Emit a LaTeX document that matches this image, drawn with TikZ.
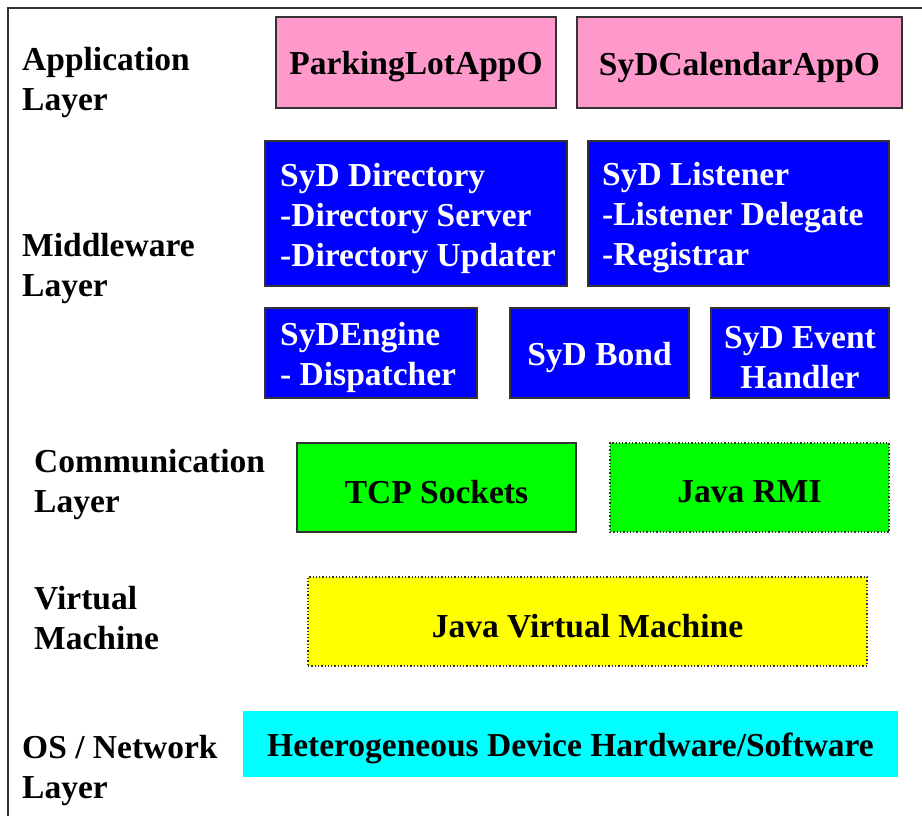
\documentclass[tikz,border=0pt]{standalone}
\usepackage{fontspec}
\setmainfont{Liberation Serif}
\definecolor{pinkbox}{HTML}{FF99CC}
\definecolor{bluebox}{HTML}{0000FF}
\definecolor{greenbox}{HTML}{00FF00}
\definecolor{yellowbox}{HTML}{FFFF00}
\definecolor{cyanbox}{HTML}{00FFFF}
\definecolor{edge}{HTML}{333333}
\begin{document}
\begin{tikzpicture}[x=1pt,y=-1pt,
  font=\fontsize{33.5}{40}\selectfont\bfseries,
  layerlabel/.style={anchor=west, align=left, inner sep=0pt},
  box/.style={draw=edge, line width=1.3pt, inner sep=0pt},
  dotbox/.style={draw=edge, line width=1.3pt, dotted, inner sep=0pt},
  txt/.style={inner sep=0pt, align=center, yshift=-4.5pt},
  wtxt/.style={txt, text=white},
  wltxt/.style={wtxt, align=left, anchor=west},
  appbox/.style={box, fill=pinkbox},
  midbox/.style={box, fill=bluebox},
  combox/.style={fill=greenbox},
]
\useasboundingbox (0,0) rectangle (922,816);
\draw[line width=1.5pt, edge] (8,816) -- (8,8) -- (922,8);

% layer labels
\node[layerlabel] (lapp) at (22,82) {Application\\Layer};
\node[layerlabel] (lmid) at (22,268) {Middleware\\Layer};
\node[layerlabel] (lcom) at (34,484) {Communication\\Layer};
\node[layerlabel] (lvm)  at (34,618) {Virtual\\Machine};
\node[layerlabel] (los)  at (22,770) {OS / Network\\Layer};

% application layer
\node[appbox, minimum width=280pt, minimum height=91pt] (park) at (416,62.5) {};
\node[txt] (parkt) at (park.center) {ParkingLotAppO};
\node[appbox, minimum width=325pt, minimum height=91pt] (cal) at (739.5,62.5) {};
\node[txt] (calt) at (cal.center) {SyDCalendarAppO};

% middleware layer
\node[midbox, minimum width=302pt, minimum height=145pt] (dir) at (416,213.5) {};
\node[wltxt] (dirt) at (280,213.5) {SyD Directory\\-Directory Server\\-Directory Updater};
\node[midbox, minimum width=301pt, minimum height=145pt] (lis) at (738.5,213.5) {};
\node[wltxt] (list) at (602,213.5) {SyD Listener\\-Listener Delegate\\-Registrar};
\node[midbox, minimum width=212pt, minimum height=90pt] (eng) at (371,353) {};
\node[wltxt] (engt) at (280,353) {SyDEngine\\- Dispatcher};
\node[midbox, minimum width=179pt, minimum height=90pt] (bond) at (599.5,353) {};
\node[wtxt] (bondt) at (bond.center) {SyD Bond};
\node[midbox, minimum width=178pt, minimum height=90pt] (evh) at (800,353) {};
\node[wtxt] (evht) at (evh.center) {SyD Event\\Handler};

% communication layer
\node[box, combox, minimum width=279pt, minimum height=89pt] (tcp) at (436.5,487.5) {};
\node[txt] (tcpt) at (tcp.center) {TCP Sockets};
\node[dotbox, combox, minimum width=279pt, minimum height=89pt] (rmi) at (749.5,487.5) {};
\node[txt] (rmit) at (rmi.center) {Java RMI};

% virtual machine
\node[dotbox, fill=yellowbox, minimum width=559pt, minimum height=89pt] (jvm) at (587.5,621.5) {};
\node[txt] (jvmt) at (jvm.center) {Java Virtual Machine};

% OS / network
\node[fill=cyanbox, inner sep=0pt, minimum width=655pt, minimum height=66pt] (hw) at (570.5,744) {};
\node[txt] (hwt) at (hw.center) {Heterogeneous Device Hardware/Software};
\end{tikzpicture}
\end{document}
